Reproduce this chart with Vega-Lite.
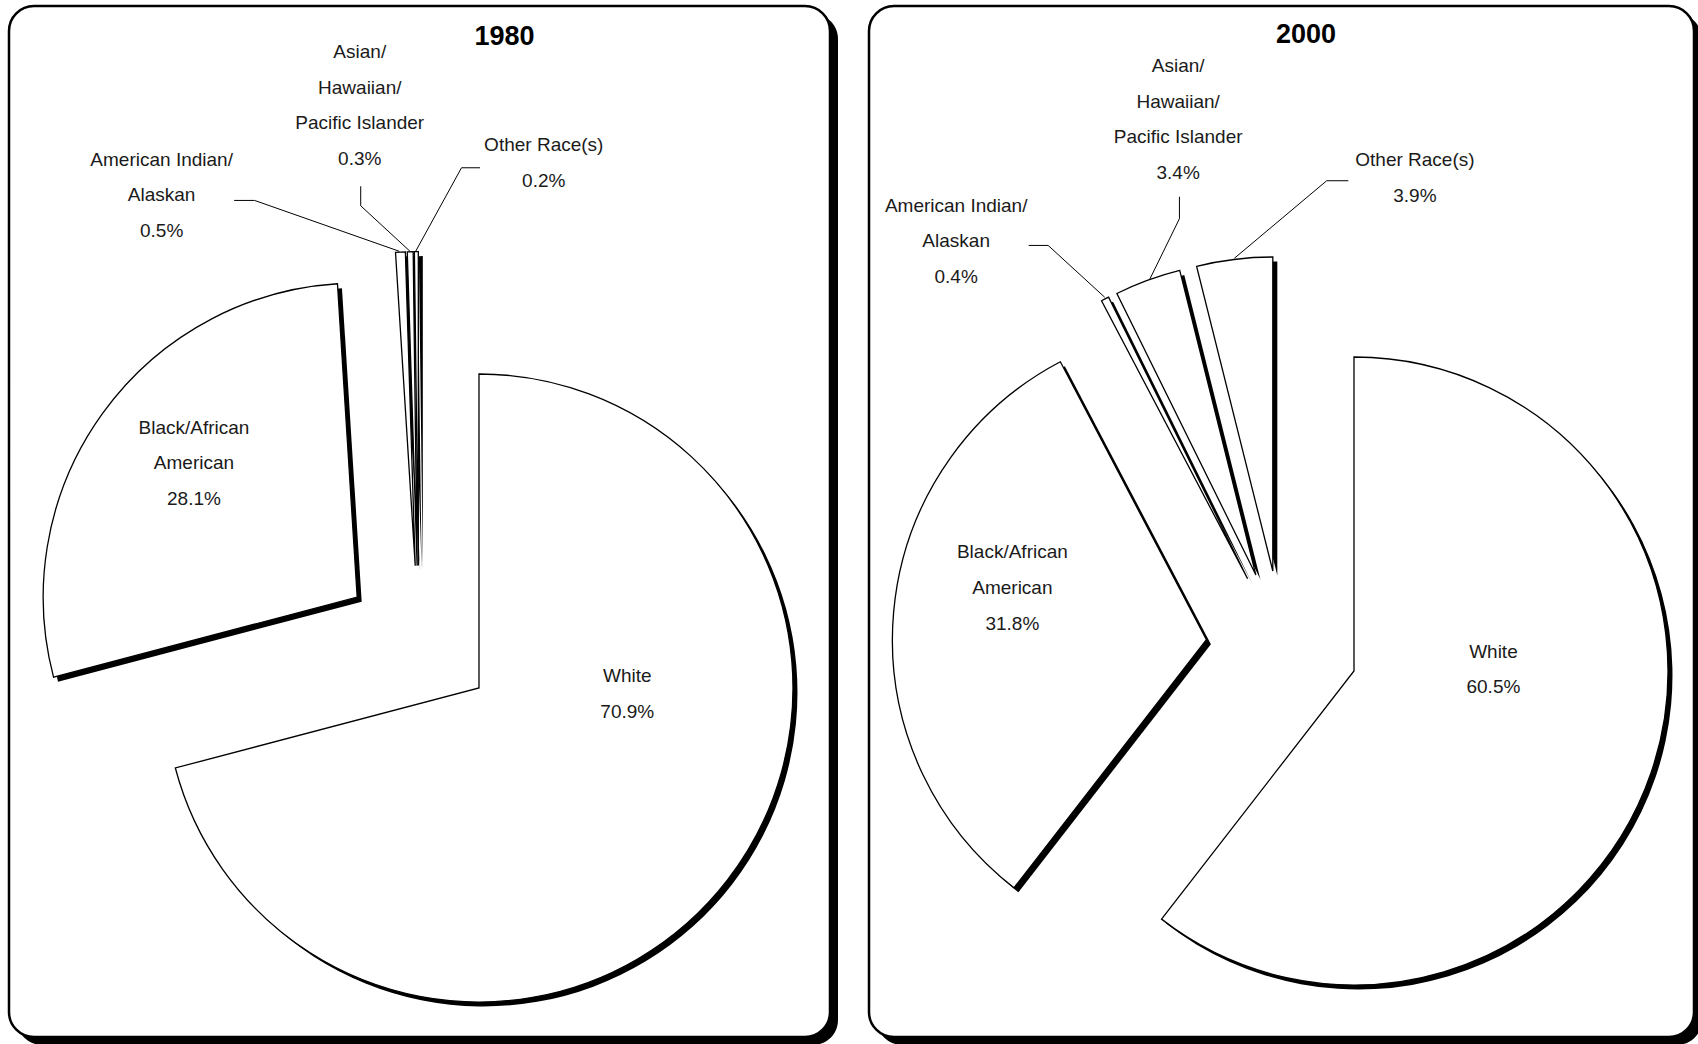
{
  "$schema": "https://vega.github.io/schema/vega-lite/v6.json",
  "background": "white",
  "padding": {"left": 7, "top": 4, "right": 0, "bottom": 0},
  "bounds": "flush",
  "spacing": 39,
  "config": {"view": {"stroke": null}},
  "datasets": {
    "slices": [
      {"year": 1980, "order": 1, "race": "White", "pct": 70.9},
      {"year": 1980, "order": 2, "race": "Black/African American", "pct": 28.1},
      {"year": 1980, "order": 3, "race": "American Indian/Alaskan", "pct": 0.5},
      {"year": 1980, "order": 4, "race": "Asian/Hawaiian/Pacific Islander", "pct": 0.3},
      {"year": 1980, "order": 5, "race": "Other Race(s)", "pct": 0.2},
      {"year": 2000, "order": 1, "race": "White", "pct": 60.5},
      {"year": 2000, "order": 2, "race": "Black/African American", "pct": 31.8},
      {"year": 2000, "order": 3, "race": "American Indian/Alaskan", "pct": 0.4},
      {"year": 2000, "order": 4, "race": "Asian/Hawaiian/Pacific Islander", "pct": 3.4},
      {"year": 2000, "order": 5, "race": "Other Race(s)", "pct": 3.9}
    ],
    "labels": [
      {"year": 1980, "label": "Asian/\nHawaiian/\nPacific Islander\n0.3%", "u": -0.188, "v": 1.878},
      {"year": 1980, "label": "American Indian/\nAlaskan\n0.5%", "u": -0.819, "v": 1.535},
      {"year": 1980, "label": "Other Race(s)\n0.2%", "u": 0.398, "v": 1.581},
      {"year": 1980, "label": "Black/African\nAmerican\n28.1%", "u": -0.716, "v": 0.681},
      {"year": 1980, "label": "White\n70.9%", "u": 0.664, "v": -0.109},
      {"year": 2000, "label": "Asian/\nHawaiian/\nPacific Islander\n3.4%", "u": -0.331, "v": 1.849},
      {"year": 2000, "label": "American Indian/\nAlaskan\n0.4%", "u": -1.038, "v": 1.404},
      {"year": 2000, "label": "Other Race(s)\n3.9%", "u": 0.423, "v": 1.549},
      {"year": 2000, "label": "Black/African\nAmerican\n31.8%", "u": -0.859, "v": 0.3},
      {"year": 2000, "label": "White\n60.5%", "u": 0.673, "v": -0.017}
    ],
    "titles": [
      {"year": 1980, "label": "1980", "u": 0.273, "v": 1.927},
      {"year": 2000, "label": "2000", "u": 0.076, "v": 1.948}
    ],
    "leaders": [
      {"year": 1980, "race": "American Indian/Alaskan", "seq": 1, "u": -0.588, "v": 1.405},
      {"year": 1980, "race": "American Indian/Alaskan", "seq": 2, "u": -0.523, "v": 1.405},
      {"year": 1980, "race": "American Indian/Alaskan", "seq": 3, "u": -0.062, "v": 1.243},
      {"year": 1980, "race": "Asian/Hawaiian/Pacific Islander", "seq": 1, "u": -0.185, "v": 1.45},
      {"year": 1980, "race": "Asian/Hawaiian/Pacific Islander", "seq": 2, "u": -0.185, "v": 1.388},
      {"year": 1980, "race": "Asian/Hawaiian/Pacific Islander", "seq": 3, "u": -0.028, "v": 1.243},
      {"year": 1980, "race": "Other Race(s)", "seq": 1, "u": 0.195, "v": 1.509},
      {"year": 1980, "race": "Other Race(s)", "seq": 2, "u": 0.136, "v": 1.509},
      {"year": 1980, "race": "Other Race(s)", "seq": 3, "u": -0.01, "v": 1.243},
      {"year": 2000, "race": "American Indian/Alaskan", "seq": 1, "u": -0.807, "v": 1.277},
      {"year": 2000, "race": "American Indian/Alaskan", "seq": 2, "u": -0.745, "v": 1.277},
      {"year": 2000, "race": "American Indian/Alaskan", "seq": 3, "u": -0.565, "v": 1.112},
      {"year": 2000, "race": "Asian/Hawaiian/Pacific Islander", "seq": 1, "u": -0.327, "v": 1.432},
      {"year": 2000, "race": "Asian/Hawaiian/Pacific Islander", "seq": 2, "u": -0.327, "v": 1.362},
      {"year": 2000, "race": "Asian/Hawaiian/Pacific Islander", "seq": 3, "u": -0.421, "v": 1.17},
      {"year": 2000, "race": "Other Race(s)", "seq": 1, "u": 0.211, "v": 1.483},
      {"year": 2000, "race": "Other Race(s)", "seq": 2, "u": 0.142, "v": 1.483},
      {"year": 2000, "race": "Other Race(s)", "seq": 3, "u": -0.152, "v": 1.236}
    ]
  },
  "hconcat": [
    {
      "width": 821,
      "height": 1031,
      "layer": [
        {
          "data": {"values": [{}]},
          "mark": {"type": "rect", "fill": "black", "cornerRadius": 25, "xOffset": 8, "x2Offset": 8, "yOffset": 8, "y2Offset": 8},
          "encoding": {"x": {"value": 0}, "x2": {"value": "width"}, "y": {"value": 0}, "y2": {"value": "height"}}
        },
        {
          "data": {"values": [{}]},
          "mark": {"type": "rect", "fill": "white", "stroke": "black", "strokeWidth": 2.5, "cornerRadius": 25},
          "encoding": {"x": {"value": 0}, "x2": {"value": "width"}, "y": {"value": 0}, "y2": {"value": "height"}}
        },
        {
          "data": {"name": "slices"},
          "transform": [
            {"filter": "datum.year === 1980"},
            {"window": [{"op": "sum", "field": "pct", "as": "cum"}], "sort": [{"field": "order"}], "frame": [null, 0]},
            {"calculate": "datum.cum - datum.pct", "as": "start"},
            {"calculate": "0.242 * sin(PI * (datum.cum - datum.pct / 2) / 50)", "as": "u"},
            {"calculate": "0.242 * cos(PI * (datum.cum - datum.pct / 2) / 50)", "as": "v"}
          ],
          "encoding": {
            "theta": {"field": "start", "type": "quantitative", "scale": {"domain": [0, 100], "range": [0, 6.283185307179586]}, "stack": null},
            "theta2": {"field": "cum"},
            "x": {"field": "u", "type": "quantitative", "stack": null, "axis": null, "scale": {"domain": [-1, 1], "range": [95.8, 723.8], "nice": false, "zero": false}},
            "y": {"field": "v", "type": "quantitative", "stack": null, "axis": null, "scale": {"domain": [-1, 1], "range": [949.6, 321.6], "nice": false, "zero": false}}
          },
          "layer": [
            {"mark": {"type": "arc", "radius": 314, "radius2": 0, "fill": "black", "xOffset": 4.5, "yOffset": 4.5}},
            {"mark": {"type": "arc", "radius": 314, "radius2": 0, "fill": "white", "stroke": "black", "strokeWidth": 1.3}}
          ]
        },
        {
          "data": {"name": "leaders"},
          "transform": [{"filter": "datum.year === 1980"}],
          "mark": {"type": "line", "stroke": "black", "strokeWidth": 1},
          "encoding": {
            "x": {"field": "u", "type": "quantitative", "axis": null, "scale": {"domain": [-1, 1], "range": [95.8, 723.8], "nice": false, "zero": false}},
            "y": {"field": "v", "type": "quantitative", "axis": null, "scale": {"domain": [-1, 1], "range": [949.6, 321.6], "nice": false, "zero": false}},
            "detail": {"field": "race", "type": "nominal"},
            "order": {"field": "seq", "type": "quantitative"}
          }
        },
        {
          "data": {"name": "labels"},
          "transform": [{"filter": "datum.year === 1980"}],
          "mark": {"type": "text", "lineBreak": "\n", "font": "Liberation Sans, Arial", "fontSize": 19, "lineHeight": 35.7, "align": "center", "baseline": "middle", "fill": "#1a1a1a"},
          "encoding": {
            "x": {"field": "u", "type": "quantitative", "axis": null, "scale": {"domain": [-1, 1], "range": [95.8, 723.8], "nice": false, "zero": false}},
            "y": {"field": "v", "type": "quantitative", "axis": null, "scale": {"domain": [-1, 1], "range": [949.6, 321.6], "nice": false, "zero": false}},
            "text": {"field": "label", "type": "nominal"}
          }
        },
        {
          "data": {"name": "titles"},
          "transform": [{"filter": "datum.year === 1980"}],
          "mark": {"type": "text", "font": "Liberation Sans, Arial", "fontWeight": "bold", "fontSize": 27, "align": "center", "baseline": "middle", "fill": "black"},
          "encoding": {
            "x": {"field": "u", "type": "quantitative", "axis": null, "scale": {"domain": [-1, 1], "range": [95.8, 723.8], "nice": false, "zero": false}},
            "y": {"field": "v", "type": "quantitative", "axis": null, "scale": {"domain": [-1, 1], "range": [949.6, 321.6], "nice": false, "zero": false}},
            "text": {"field": "label", "type": "nominal"}
          }
        }
      ]
    },
    {
      "width": 825,
      "height": 1031,
      "layer": [
        {
          "data": {"values": [{}]},
          "mark": {"type": "rect", "fill": "black", "cornerRadius": 25, "xOffset": 8, "x2Offset": 8, "yOffset": 8, "y2Offset": 8},
          "encoding": {"x": {"value": 0}, "x2": {"value": "width"}, "y": {"value": 0}, "y2": {"value": "height"}}
        },
        {
          "data": {"values": [{}]},
          "mark": {"type": "rect", "fill": "white", "stroke": "black", "strokeWidth": 2.5, "cornerRadius": 25},
          "encoding": {"x": {"value": 0}, "x2": {"value": "width"}, "y": {"value": 0}, "y2": {"value": "height"}}
        },
        {
          "data": {"name": "slices"},
          "transform": [
            {"filter": "datum.year === 2000"},
            {"window": [{"op": "sum", "field": "pct", "as": "cum"}], "sort": [{"field": "order"}], "frame": [null, 0]},
            {"calculate": "datum.cum - datum.pct", "as": "start"},
            {"calculate": "0.242 * sin(PI * (datum.cum - datum.pct / 2) / 50)", "as": "u"},
            {"calculate": "0.242 * cos(PI * (datum.cum - datum.pct / 2) / 50)", "as": "v"}
          ],
          "encoding": {
            "theta": {"field": "start", "type": "quantitative", "scale": {"domain": [0, 100], "range": [0, 6.283185307179586]}, "stack": null},
            "theta2": {"field": "cum"},
            "x": {"field": "u", "type": "quantitative", "stack": null, "axis": null, "scale": {"domain": [-1, 1], "range": [99.1, 727.1], "nice": false, "zero": false}},
            "y": {"field": "v", "type": "quantitative", "stack": null, "axis": null, "scale": {"domain": [-1, 1], "range": [954.4, 326.4], "nice": false, "zero": false}}
          },
          "layer": [
            {"mark": {"type": "arc", "radius": 314, "radius2": 0, "fill": "black", "xOffset": 4.5, "yOffset": 4.5}},
            {"mark": {"type": "arc", "radius": 314, "radius2": 0, "fill": "white", "stroke": "black", "strokeWidth": 1.3}}
          ]
        },
        {
          "data": {"name": "leaders"},
          "transform": [{"filter": "datum.year === 2000"}],
          "mark": {"type": "line", "stroke": "black", "strokeWidth": 1},
          "encoding": {
            "x": {"field": "u", "type": "quantitative", "axis": null, "scale": {"domain": [-1, 1], "range": [99.1, 727.1], "nice": false, "zero": false}},
            "y": {"field": "v", "type": "quantitative", "axis": null, "scale": {"domain": [-1, 1], "range": [954.4, 326.4], "nice": false, "zero": false}},
            "detail": {"field": "race", "type": "nominal"},
            "order": {"field": "seq", "type": "quantitative"}
          }
        },
        {
          "data": {"name": "labels"},
          "transform": [{"filter": "datum.year === 2000"}],
          "mark": {"type": "text", "lineBreak": "\n", "font": "Liberation Sans, Arial", "fontSize": 19, "lineHeight": 35.7, "align": "center", "baseline": "middle", "fill": "#1a1a1a"},
          "encoding": {
            "x": {"field": "u", "type": "quantitative", "axis": null, "scale": {"domain": [-1, 1], "range": [99.1, 727.1], "nice": false, "zero": false}},
            "y": {"field": "v", "type": "quantitative", "axis": null, "scale": {"domain": [-1, 1], "range": [954.4, 326.4], "nice": false, "zero": false}},
            "text": {"field": "label", "type": "nominal"}
          }
        },
        {
          "data": {"name": "titles"},
          "transform": [{"filter": "datum.year === 2000"}],
          "mark": {"type": "text", "font": "Liberation Sans, Arial", "fontWeight": "bold", "fontSize": 27, "align": "center", "baseline": "middle", "fill": "black"},
          "encoding": {
            "x": {"field": "u", "type": "quantitative", "axis": null, "scale": {"domain": [-1, 1], "range": [99.1, 727.1], "nice": false, "zero": false}},
            "y": {"field": "v", "type": "quantitative", "axis": null, "scale": {"domain": [-1, 1], "range": [954.4, 326.4], "nice": false, "zero": false}},
            "text": {"field": "label", "type": "nominal"}
          }
        }
      ]
    }
  ]
}
